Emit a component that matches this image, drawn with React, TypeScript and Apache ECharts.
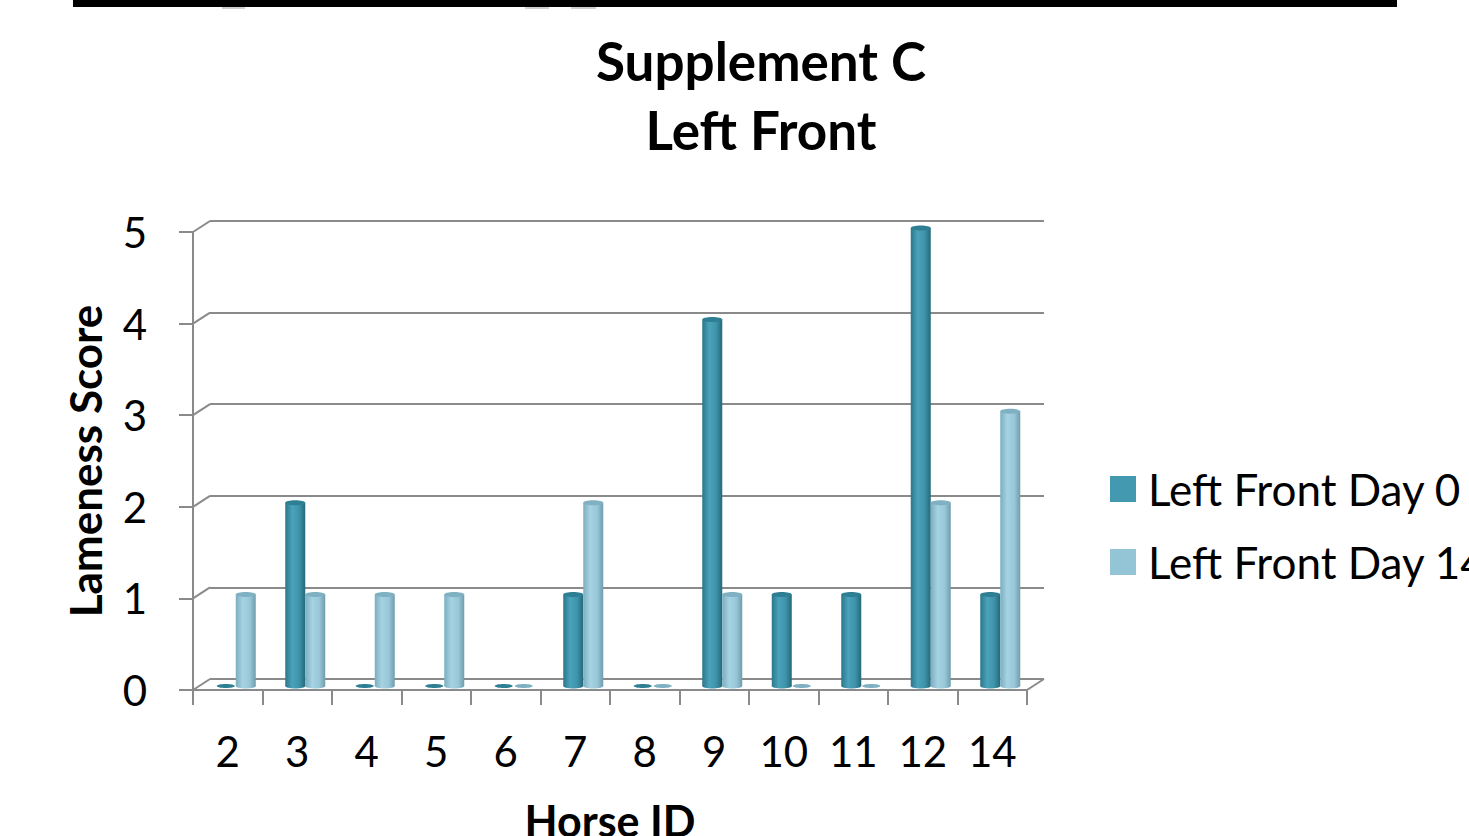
import React, { useEffect, useRef } from "react";
import * as echarts from "echarts";

const categories = ["2", "3", "4", "5", "6", "7", "8", "9", "10", "11", "12", "14"];
const day0 = [0, 2, 0, 0, 0, 1, 0, 4, 1, 1, 5, 1];
const day14 = [1, 1, 1, 1, 0, 2, 0, 1, 0, 0, 2, 3];
const yTicks = [0, 1, 2, 3, 4, 5];
const seriesNames = ["Left Front Day 0", "Left Front Day 14"];

const W = 1469;
const H = 836;
const FONT = "Lato";
const GRID_GRAY = "#8a8a8a";

// front plane
const FRONT = { left: 193, right: 1027, top: 232, bottom: 690 };
// back plane offset
const BACK_DX = 17;
const BACK_DY = -11;
// bars (mid depth)
const BAR_DX = 8;
const BAR_DY = -4;

const DARK = {
  legend: "#4299B0",
  stops: ["#2b768b", "#4aa3ba", "#3d93aa", "#25687a"],
  cap: "#2f7f94",
};
const LIGHT = {
  legend: "#93C5D6",
  stops: ["#7aaebf", "#a6d3e3", "#98c7d8", "#6f9dad"],
  cap: "#7fb1c2",
};

function makeRender(side: number, pal: typeof DARK) {
  return (params: any, api: any) => {
    const idx = api.value(0);
    const v = api.value(1);
    const base = api.coord([idx, 0]);
    const top = api.coord([idx, v]);
    const bw = 20;
    const cx = base[0] + side * 10;
    const x0 = cx - bw / 2;
    const grad = {
      type: "linear",
      x: 0,
      y: 0,
      x2: 1,
      y2: 0,
      colorStops: [
        { offset: 0, color: pal.stops[0] },
        { offset: 0.35, color: pal.stops[1] },
        { offset: 0.7, color: pal.stops[2] },
        { offset: 1, color: pal.stops[3] },
      ],
    };
    const children: any[] = [];
    if (v > 0) {
      children.push({
        type: "ellipse",
        shape: { cx, cy: base[1], rx: bw / 2, ry: 2.5 },
        style: { fill: grad },
      });
      children.push({
        type: "rect",
        shape: { x: x0, y: top[1], width: bw, height: base[1] - top[1] },
        style: { fill: grad },
      });
      children.push({
        type: "ellipse",
        shape: { cx, cy: top[1], rx: bw / 2, ry: 2.5 },
        style: { fill: pal.cap },
      });
    } else {
      children.push({
        type: "ellipse",
        shape: { cx, cy: base[1], rx: bw / 2 - 1, ry: 2 },
        style: { fill: pal.cap },
      });
    }
    return { type: "group", children };
  };
}

export default function App() {
  const ref = useRef<HTMLDivElement>(null);

  useEffect(() => {
    if (!ref.current) return;
    const chart = echarts.init(ref.current, null, { renderer: "svg" });

    const gridFront = {
      left: FRONT.left,
      top: FRONT.top,
      width: FRONT.right - FRONT.left,
      height: FRONT.bottom - FRONT.top,
    };
    const gridBack = {
      left: FRONT.left + BACK_DX,
      top: FRONT.top + BACK_DY,
      width: FRONT.right - FRONT.left,
      height: FRONT.bottom - FRONT.top,
    };
    const gridBar = {
      left: FRONT.left + BAR_DX,
      top: FRONT.top + BAR_DY,
      width: FRONT.right - FRONT.left,
      height: FRONT.bottom - FRONT.top,
    };

    const option: any = {
      animation: false,
      backgroundColor: "#ffffff",
      textStyle: { fontFamily: FONT },
      title: {
        text: "Supplement C\nLeft Front",
        left: 761,
        textAlign: "center",
        top: 26,
        padding: 0,
        textStyle: {
          fontFamily: FONT,
          fontSize: 53,
          fontWeight: "bold",
          color: "#000",
          lineHeight: 69,
        },
      },
      legend: {
        orient: "vertical",
        left: 1110,
        top: 467,
        padding: 0,
        icon: "rect",
        itemWidth: 26,
        itemHeight: 26,
        itemGap: 29,
        data: seriesNames,
        textStyle: { fontFamily: FONT, fontSize: 44, color: "#000", padding: [0, 0, 0, 7] },
      },
      grid: [
        { ...gridFront, containLabel: false, outerBoundsMode: "none" },
        { ...gridBack, containLabel: false, outerBoundsMode: "none" },
        { ...gridBar, containLabel: false, outerBoundsMode: "none" },
      ],
      xAxis: [
        {
          gridIndex: 0,
          type: "category",
          data: categories,
          name: "Horse ID",
          nameLocation: "middle",
          nameGap: 109,
          nameTextStyle: { fontFamily: FONT, fontSize: 43, fontWeight: "bold", color: "#000" },
          axisLine: { show: true, lineStyle: { color: GRID_GRAY, width: 2 } },
          axisTick: { show: true, length: 15, lineStyle: { color: GRID_GRAY, width: 2 } },
          axisLabel: { fontFamily: FONT, fontSize: 42, color: "#000", margin: 40 },
          splitLine: { show: false },
        },
        { gridIndex: 1, type: "category", data: categories, show: false },
        { gridIndex: 2, type: "category", data: categories, show: false },
      ],
      yAxis: [
        {
          gridIndex: 0,
          type: "value",
          min: 0,
          max: 5,
          interval: 1,
          name: "Lameness Score",
          nameLocation: "middle",
          nameGap: 86,
          nameTextStyle: { fontFamily: FONT, fontSize: 44, fontWeight: "bold", color: "#000" },
          axisLine: { show: true, lineStyle: { color: GRID_GRAY, width: 2 } },
          axisTick: { show: true, length: 14, lineStyle: { color: GRID_GRAY, width: 2 } },
          axisLabel: {
            fontFamily: FONT,
            fontSize: 42,
            color: "#000",
            margin: 46,
            padding: [10, 0, 0, 0],
          },
          splitLine: { show: false },
        },
        {
          gridIndex: 1,
          type: "value",
          min: 0,
          max: 5,
          interval: 1,
          axisLine: { show: false },
          axisTick: { show: false },
          axisLabel: { show: false },
          splitLine: { show: true, lineStyle: { color: GRID_GRAY, width: 2 } },
        },
        {
          gridIndex: 2,
          type: "value",
          min: 0,
          max: 5,
          interval: 1,
          show: false,
          splitLine: { show: false },
        },
      ],
      series: [
        {
          name: seriesNames[0],
          type: "custom",
          xAxisIndex: 2,
          yAxisIndex: 2,
          itemStyle: { color: DARK.legend },
          renderItem: makeRender(-1, DARK),
          encode: { x: 0, y: 1 },
          data: day0.map((v, i) => [i, v]),
          z: 5,
        },
        {
          name: seriesNames[1],
          type: "custom",
          xAxisIndex: 2,
          yAxisIndex: 2,
          itemStyle: { color: LIGHT.legend },
          renderItem: makeRender(1, LIGHT),
          encode: { x: 0, y: 1 },
          data: day14.map((v, i) => [i, v]),
          z: 6,
        },
      ],
    };

    chart.setOption(option);

    // diagonal wall/floor connectors, from the library's own scales
    const lines: any[] = [];
    yTicks.forEach((t) => {
      const yf = chart.convertToPixel({ yAxisIndex: 0 }, t) as number;
      const yb = chart.convertToPixel({ yAxisIndex: 1 }, t) as number;
      lines.push({
        type: "line",
        shape: { x1: FRONT.left, y1: yf, x2: FRONT.left + BACK_DX, y2: yb },
        style: { stroke: GRID_GRAY, lineWidth: 2 },
        z: 1,
      });
    });
    const yf0 = chart.convertToPixel({ yAxisIndex: 0 }, 0) as number;
    const yb0 = chart.convertToPixel({ yAxisIndex: 1 }, 0) as number;
    lines.push({
      type: "line",
      shape: { x1: FRONT.right, y1: yf0, x2: FRONT.right + BACK_DX, y2: yb0 },
      style: { stroke: GRID_GRAY, lineWidth: 2 },
      z: 1,
    });
    // black band at top of page
    lines.push({
      type: "rect",
      shape: { x: 73, y: 0, width: 1324, height: 7 },
      style: { fill: "#000" },
      z: 10,
    });
    [[222, 23], [525, 24], [571, 25]].forEach(([x, w]) => {
      lines.push({
        type: "rect",
        shape: { x, y: 7, width: w, height: 2 },
        style: { fill: "#d0d0d0" },
        z: 10,
      });
    });
    chart.setOption({ graphic: lines });

    return () => chart.dispose();
  }, []);

  return (
    <div
      ref={ref}
      style={{ position: "fixed", left: 0, top: 0, width: W, height: H, background: "#fff" }}
    />
  );
}
